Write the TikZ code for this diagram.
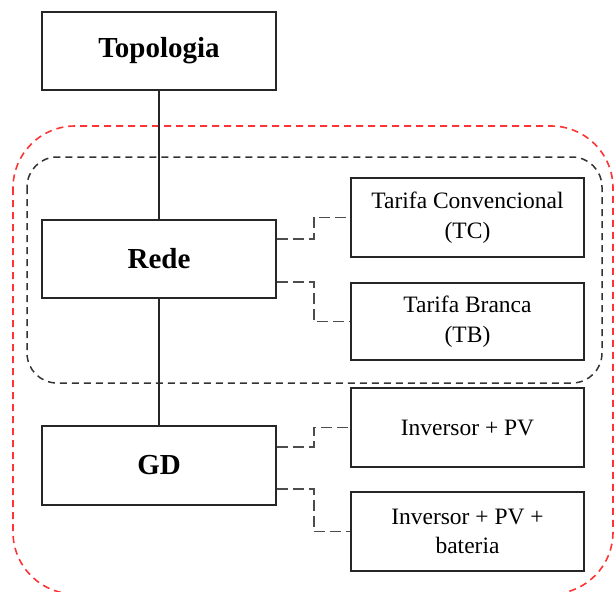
\documentclass[tikz,border=0pt]{standalone}
\usepackage{fontspec}
\setmainfont{Liberation Serif}
\begin{document}
\begin{tikzpicture}[x=1pt,y=-1pt,
  box/.style={draw=black!85,line width=1.6pt,inner sep=0pt,align=center},
  mainbox/.style={box,minimum width=234pt,minimum height=78pt,font=\fontsize{29}{34}\selectfont\bfseries},
  subbox/.style={box,minimum width=233pt,minimum height=78pt,font=\fontsize{23.5}{29.5}\selectfont},
  conn/.style={draw=black!70,line width=1.8pt,dash pattern=on 11pt off 5pt},
  link/.style={draw=black!85,line width=1.5pt},
  redzone/.style={draw=red!80,line width=1.6pt,dash pattern=on 7pt off 5pt,rounded corners=62pt},
  greyzone/.style={draw=black!80,line width=1.5pt,dash pattern=on 7pt off 5pt,rounded corners=30pt}]
\useasboundingbox (0,0) rectangle (614,592);
\draw[redzone] (13,126) rectangle (613,594);
\draw[greyzone] (27,157) rectangle (602,383);

\node[mainbox] (top) at (159,51) {Topologia};
\node[mainbox] (rede) at (159,259) {Rede};
\node[mainbox,minimum height=79pt] (gd) at (159,465.5) {GD};

\node[subbox,minimum height=79pt] (tc) at (467.5,217.5) {Tarifa Convencional\\(TC)};
\node[subbox,minimum height=77pt] (tb) at (467.5,321.5) {Tarifa Branca\\(TB)};
\node[subbox,minimum height=79pt] (inv) at (467.5,427.5) {Inversor + PV};
\node[subbox,minimum height=79pt] (bat) at (467.5,531.5) {Inversor + PV +\\bateria};

\draw[link] (top) -- (rede);
\draw[link] (rede) -- (gd);

\draw[conn] ([yshift=20pt]rede.east) -- ++(37,0) |- (tc.west);
\draw[conn] ([yshift=-23pt]rede.east) -- ++(37,0) |- (tb.west);
\draw[conn] ([yshift=18.5pt]gd.east) -- ++(37,0) |- (inv.west);
\draw[conn] ([yshift=-23.5pt]gd.east) -- ++(37,0) |- (bat.west);
\end{tikzpicture}
\end{document}
